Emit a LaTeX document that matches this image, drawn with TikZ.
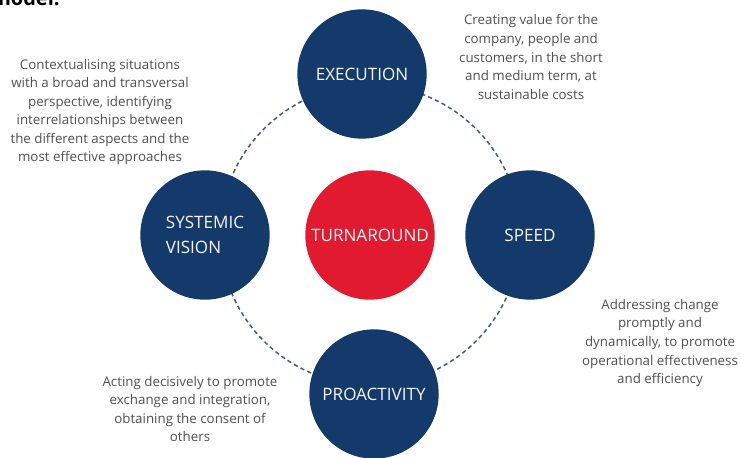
\documentclass[tikz,border=0pt]{standalone}
\usepackage{fontspec}
\setmainfont{Open Sans}
\usepackage{tikz}
\usetikzlibrary{positioning}

\definecolor{ingnavy}{RGB}{20,58,107}
\definecolor{ingred}{RGB}{226,26,48}
\definecolor{ringgray}{RGB}{72,94,126}
\definecolor{descgray}{RGB}{80,80,80}

\begin{document}
\begin{tikzpicture}[
                      x=0.75pt, y=-0.75pt,
                  ]
                  \tikzset{
                      circ_main/.style = {circle, fill=ingnavy, text=white!92!gray, minimum size=97pt, inner sep=0pt, font=\fontsize{12.8}{19}\selectfont},
                      circ_core/.style = {circle, fill=ingred, text=white!94!gray, minimum size=97pt, inner sep=0pt, font=\fontsize{12.8}{19}\selectfont},
                      desc_text/.style = {align=center, text=descgray, font=\fontsize{10}{13.9}\selectfont},
                      ring/.style = {ringgray, line width=1.15pt, dash pattern=on 3.2pt off 2.4pt},
                  }

                  \useasboundingbox (0,0) rectangle (741,457);

                  % Heading cut off at the top
                  \node[anchor=south west, inner sep=0pt, font=\fontsize{15}{18}\bfseries] (head) at (-9,6) {model:};

                  % Centre
                  \node[circ_core] (turnaround) at (370,235) {TURNAROUND};

                  % Dashed ring
                  \draw[ring] (turnaround.center) circle (112.5pt);

                  % Outer circles
                  \node[circ_main] (execution) at (362,74) {EXECUTION};
                  \node[circ_main] (speed) at (530,235) {SPEED};
                  \node[circ_main, align=left] (vision) at (205,235) {SYSTEMIC\\VISION};
                  \node[circ_main] (proactivity) at (374,394) {PROACTIVITY};

                  % Descriptions
                  \node[desc_text] (d_vision) at (100,112) {Contextualising situations\\with a broad and transversal\\perspective, identifying\\interrelationships between\\the different aspects and the\\most effective approaches};
                  \node[desc_text] (d_execution) at (531,57) {Creating value for the\\company, people and\\customers, in the short\\and medium term, at\\sustainable costs};
                  \node[desc_text] (d_speed) at (660,343) {Addressing change\\promptly and\\dynamically, to promote\\operational effectiveness\\and efficiency};
                  \node[desc_text] (d_proactivity) at (190,409) {Acting decisively to promote\\exchange and integration,\\obtaining the consent of\\others};

              \end{tikzpicture}
\end{document}
